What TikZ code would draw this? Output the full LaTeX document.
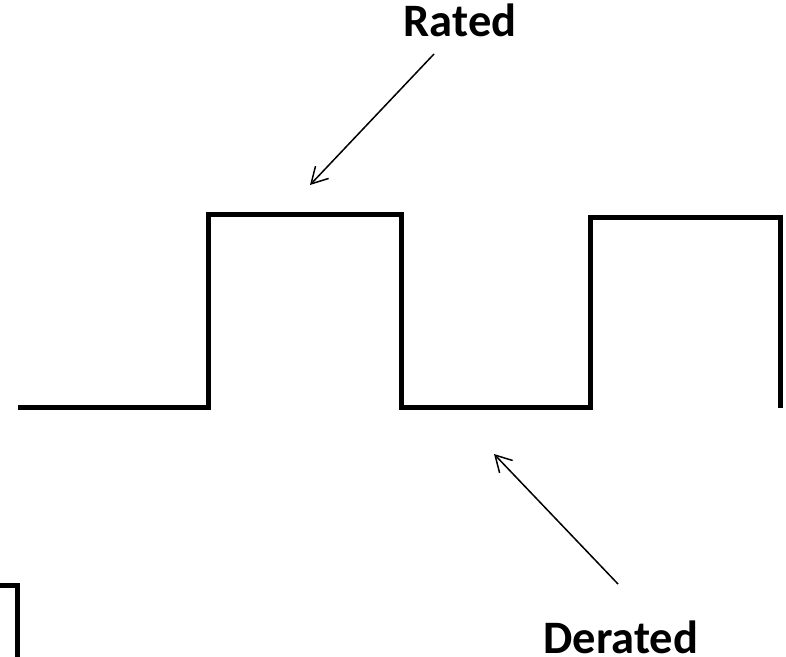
\documentclass[tikz,border=0pt]{standalone}
\usepackage{fontspec}
\setmainfont{Carlito}
\usetikzlibrary{arrows.meta}
\begin{document}
\begin{tikzpicture}[x=1pt,y=-1pt,
  wave/.style={line width=5pt,line join=miter,line cap=butt},
  lbl/.style={font=\fontsize{46.5}{56}\selectfont\bfseries,inner sep=0pt,anchor=base},
  pointer/.style={line width=1.5pt,-{Straight Barb[length=16pt,width=18pt,line width=1.5pt]}}]
\useasboundingbox (0,0) rectangle (786,656);
\clip (0,0) rectangle (786,656);
% waveform
\draw[wave] (18,407) -- (208,407) -- (208,214) -- (401,214) -- (401,407)
  -- (590,407) -- (590,217) -- (780,217) -- (780,408);
% fragment bottom-left
\draw[wave] (-5,585) -- (17,585) -- (17,662);
% labels
\node[lbl] (rated) at (460,36.5) {Rated};
\node[lbl] (derated) at (621,653) {Derated};
\coordinate (rtail) at (434,54);
\coordinate (rtip) at (310,185);
\coordinate (dtail) at (618,584);
\coordinate (dtip) at (494,454);
\draw[pointer] (rtail) -- (rtip);
\draw[pointer] (dtail) -- (dtip);
\end{tikzpicture}
\end{document}
